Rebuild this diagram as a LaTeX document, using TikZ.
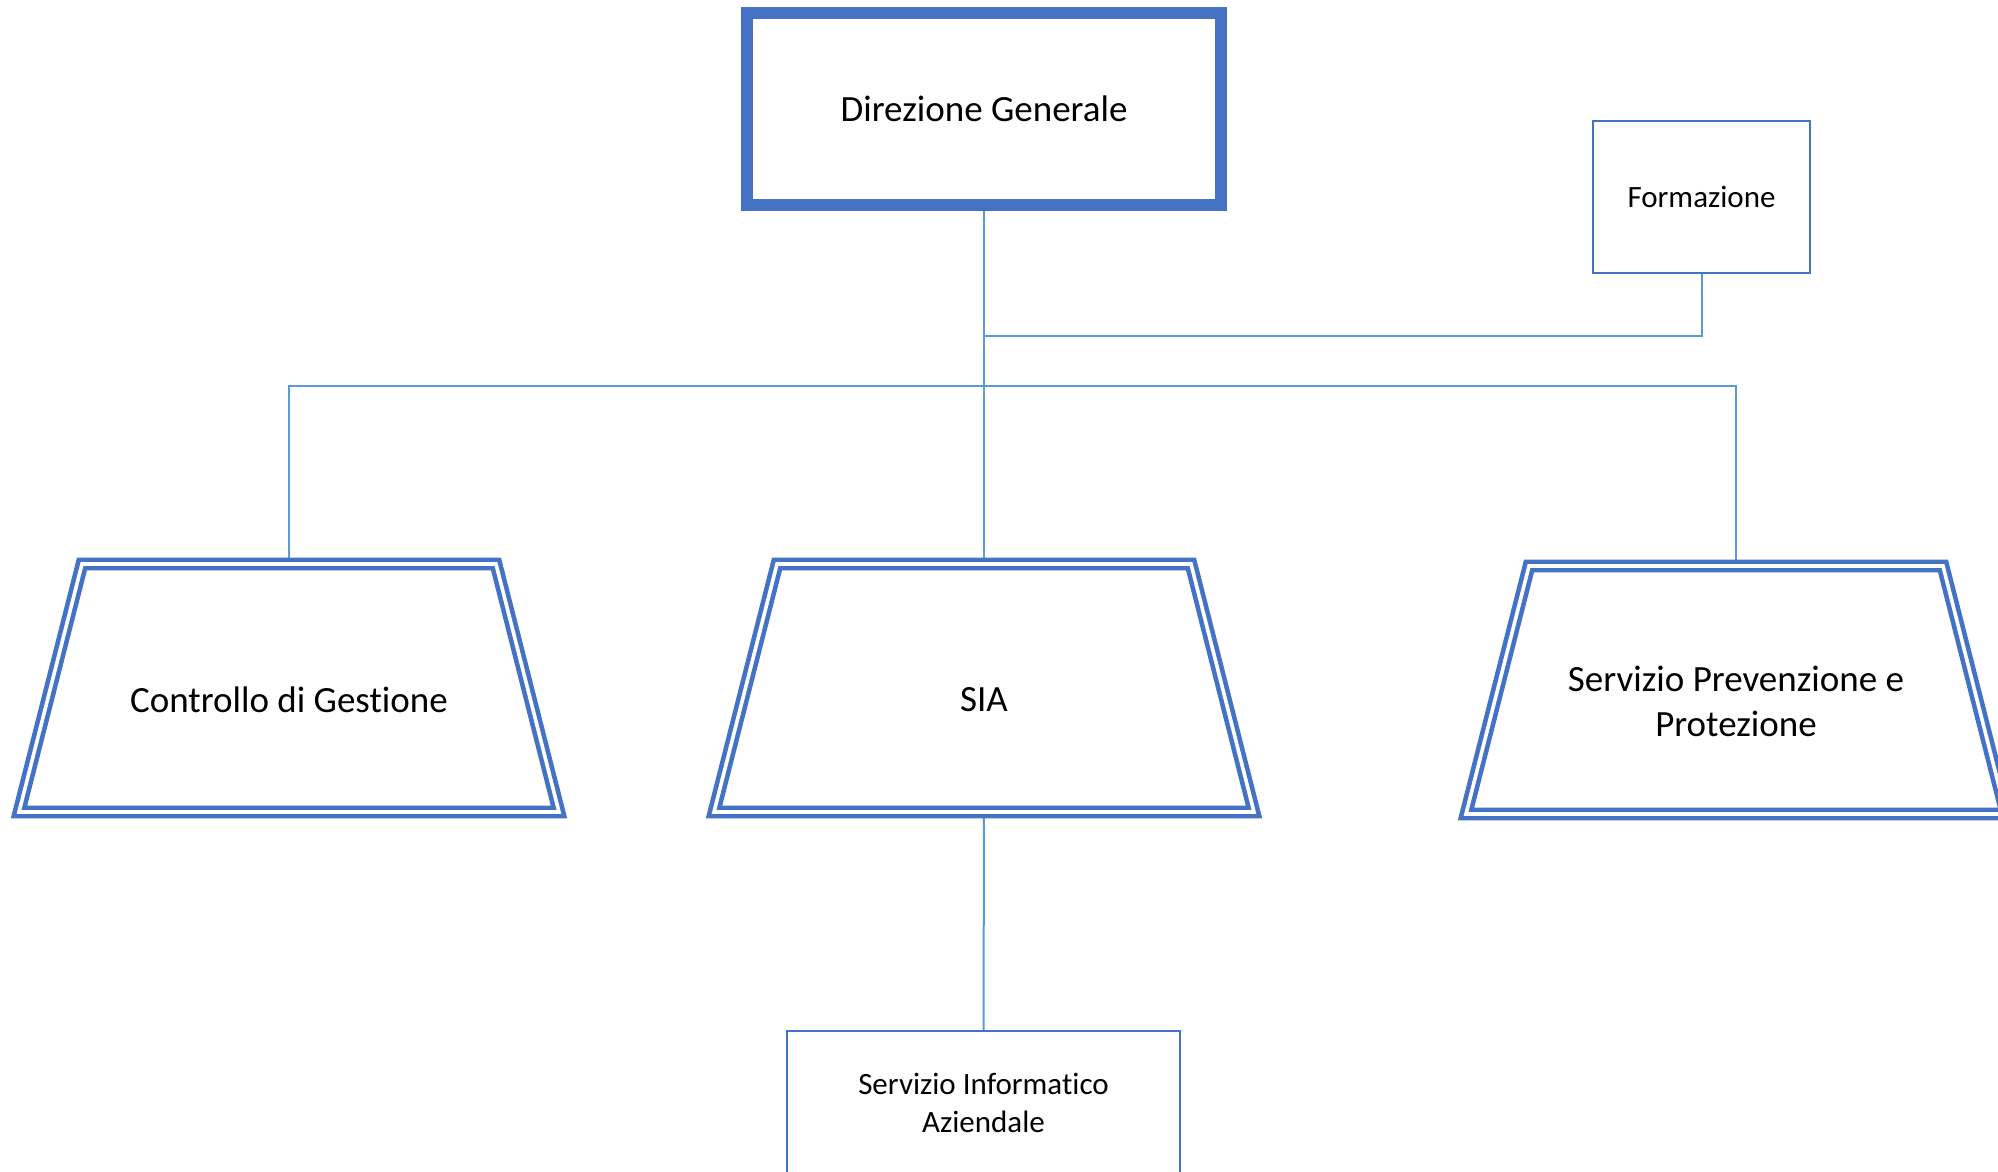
\documentclass[tikz,border=0pt]{standalone}
\usepackage{fontspec}
\setmainfont{Carlito}[Ligatures=NoCommon]
\definecolor{obl}{HTML}{4472C4}
\definecolor{cbl}{HTML}{5B9BD5}
\begin{document}
\begin{tikzpicture}[x=1pt,y=-1pt,
  conn/.style={draw=cbl, line width=2pt},
  bigfont/.style={font=\fontsize{37}{45}\selectfont},
  smallfont/.style={font=\fontsize{31}{38}\selectfont},
  tzbox/.style={minimum width=540pt, minimum height=248pt, inner sep=0pt, outer sep=0pt},
  dbl/.style={draw=obl, line width=4.6pt, double=white, double distance=3.6pt, line join=miter},
]
\useasboundingbox[fill=white] (0,0) rectangle (1998,1171);
\clip (0,0) rectangle (1998,1171);

% nodes
\node[draw=obl, line width=12pt, minimum width=474pt, minimum height=192pt, inner sep=0pt, bigfont] (dg) at (984,109) {Direzione Generale};
\node[draw=obl, line width=1.5pt, minimum width=217pt, minimum height=152pt, inner sep=0pt, smallfont] (fo) at (1701.5,197) {Formazione};

\node[tzbox] (cg) at (289,688) {};
\node[tzbox] (sia) at (984,688) {};
\node[tzbox] (spp) at (1736,690) {};
\node[bigfont] (cgt) at (289,700) {Controllo di Gestione};
\node[bigfont] (siat) at (984,700) {SIA};
\node[bigfont, align=center] (sppt) at (1736,701) {Servizio Prevenzione e\\Protezione};

\node[draw=obl, line width=2.5pt, minimum width=393pt, minimum height=144pt, inner sep=0pt, smallfont, align=center] (sib) at (983.5,1103) {Servizio Informatico\\Aziendale};

% junctions
\coordinate (j1) at (984,386);
\coordinate (j2) at (984,336);

% connectors
\draw[conn] (dg.south) -- (sia.north);
\draw[conn] (dg.south) -- (j1) -| (cg.north);
\draw[conn] (dg.south) -- (j1) -| (spp.north);
\draw[conn] (fo.south) |- (j2);
\draw[conn] (sia.south) -- (sib.north);

% trapezoid borders
\foreach \n in {cg,sia,spp}
  \draw[dbl] ([xshift=63pt]\n.north west) -- ([xshift=-63pt]\n.north east) -- (\n.south east) -- (\n.south west) -- cycle;
\end{tikzpicture}
\end{document}
